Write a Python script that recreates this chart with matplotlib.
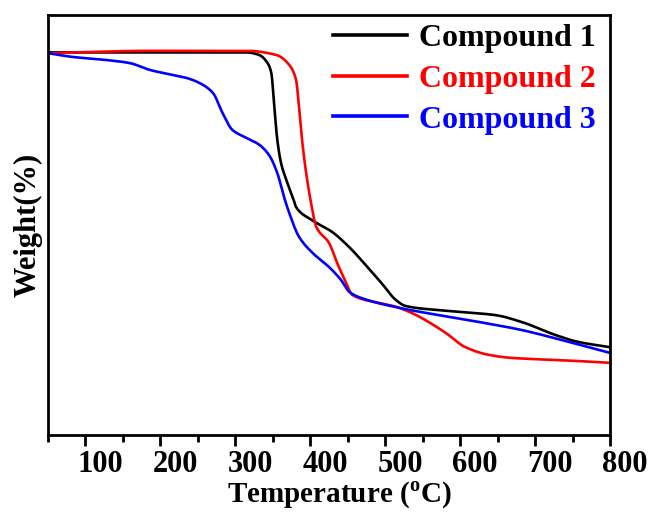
import numpy as np
import matplotlib
matplotlib.use("Agg")
import matplotlib.pyplot as plt
import matplotlib.transforms as mtransforms
from matplotlib.ticker import MultipleLocator

plt.rcParams['font.family'] = ['Liberation Serif', 'DejaVu Serif']
plt.rcParams['font.weight'] = 'bold'
plt.rcParams['mathtext.fontset'] = 'custom'
plt.rcParams['mathtext.rm'] = 'Liberation Serif:bold'

# TGA curves (temperature in C, weight in %)
t1 = [50, 315, 332, 343, 348, 352, 356, 361, 368, 378, 381, 402, 429, 452, 474, 495, 514, 527, 571, 602, 647, 682, 727, 757, 800]
w1 = [100.2, 100.2, 99.5, 97.4, 94.8, 85.9, 77.3, 71.2, 66.8, 61.5, 59.7, 56.3, 53.2, 49.2, 44.5, 39.8, 35.4, 33.8, 32.7, 32.2, 31.4, 29.6, 26.2, 24.4, 23.0]

t2 = [50, 186, 315, 355, 372, 381, 385, 389, 394.5, 401, 408, 425, 436, 448, 456, 492, 514, 535, 549, 581, 607, 638, 668, 735, 800]
w2 = [100, 100.6, 100.6, 99.5, 96.9, 93.0, 85.9, 77.3, 68.6, 60.8, 54.5, 50.3, 45.0, 39.8, 36.7, 34.6, 33.6, 32.0, 30.6, 26.7, 23.0, 21.0, 20.2, 19.6, 18.9]

t3 = [50, 83, 128, 159, 186, 216, 235, 252, 270, 283, 296, 315, 332, 345, 356, 365, 372, 385, 403, 425, 441, 452, 465, 514, 571, 625, 682, 735, 800]
w3 = [100, 99.0, 98.2, 97.4, 95.6, 94.3, 93.5, 92.2, 89.6, 84.3, 79.9, 77.8, 76.0, 73.3, 68.6, 62.3, 58.1, 51.9, 47.7, 44.0, 40.6, 37.5, 36.1, 33.5, 31.4, 29.6, 27.5, 24.9, 21.5]

labels = ["Compound 1", "Compound 2", "Compound 3"]
colors = ["black", "red", "blue"]


def pchip(x, y, n=1500):
    # shape-preserving cubic through the read points
    x = np.asarray(x, float)
    y = np.asarray(y, float)
    h = np.diff(x)
    d = np.diff(y) / h
    m = np.zeros_like(y)
    for i in range(1, len(x) - 1):
        if d[i - 1] * d[i] > 0:
            w1_ = 2 * h[i] + h[i - 1]
            w2_ = h[i] + 2 * h[i - 1]
            m[i] = (w1_ + w2_) / (w1_ / d[i - 1] + w2_ / d[i])
    m[0] = d[0]
    m[-1] = d[-1]
    xs = np.linspace(x[0], x[-1], n)
    idx = np.clip(np.searchsorted(x, xs) - 1, 0, len(h) - 1)
    tt = (xs - x[idx]) / h[idx]
    h00 = 2 * tt**3 - 3 * tt**2 + 1
    h10 = tt**3 - 2 * tt**2 + tt
    h01 = -2 * tt**3 + 3 * tt**2
    h11 = tt**3 - tt**2
    ys = h00 * y[idx] + h10 * h[idx] * m[idx] + h01 * y[idx + 1] + h11 * h[idx] * m[idx + 1]
    return xs, ys


fig = plt.figure(figsize=(6.55, 5.14), dpi=100)
ax = fig.add_axes([0.0733, 0.1537, 0.8580, 0.8172])

for t, w, lab, c in zip([t1, t2, t3], [w1, w2, w3], labels, colors):
    xs, ys = pchip(t, w)
    ax.plot(xs, ys, color=c, lw=1.9, label=lab)

ax.set_xlim(50, 800)
ax.set_ylim(0, 110)
ax.xaxis.set_major_locator(MultipleLocator(100))
ax.xaxis.set_minor_locator(MultipleLocator(50))
ax.set_yticks([])
ax.tick_params(axis='x', which='major', direction='out', length=8, width=2, labelsize=22, pad=3)
ax.tick_params(axis='x', which='minor', direction='out', length=5, width=2)
for s in ax.spines.values():
    s.set_linewidth(2)

# tick labels sit a bit right of their ticks in the original
shift = mtransforms.ScaledTranslation(0.15, 0, fig.dpi_scale_trans)
for lbl in ax.get_xticklabels():
    lbl.set_transform(lbl.get_transform() + shift)

ax.set_xlabel(r"Temperature ($^{\rm o}$C)", fontsize=21, fontweight='bold')
ax.xaxis.set_label_coords(0.518, -0.108)
ax.set_ylabel("Weight(%)", fontsize=22, fontweight='bold', labelpad=4)

leg = ax.legend(loc='upper right', frameon=False, fontsize=23, handlelength=2.3,
                handletextpad=0.37, labelspacing=0.36, borderaxespad=0.0,
                bbox_to_anchor=(0.997, 1.01))
for txt, c in zip(leg.get_texts(), colors):
    txt.set_color(c)
    txt.set_fontweight('bold')
for line in leg.get_lines():
    line.set_linewidth(2.6)

fig.savefig("out.png", dpi=100)
